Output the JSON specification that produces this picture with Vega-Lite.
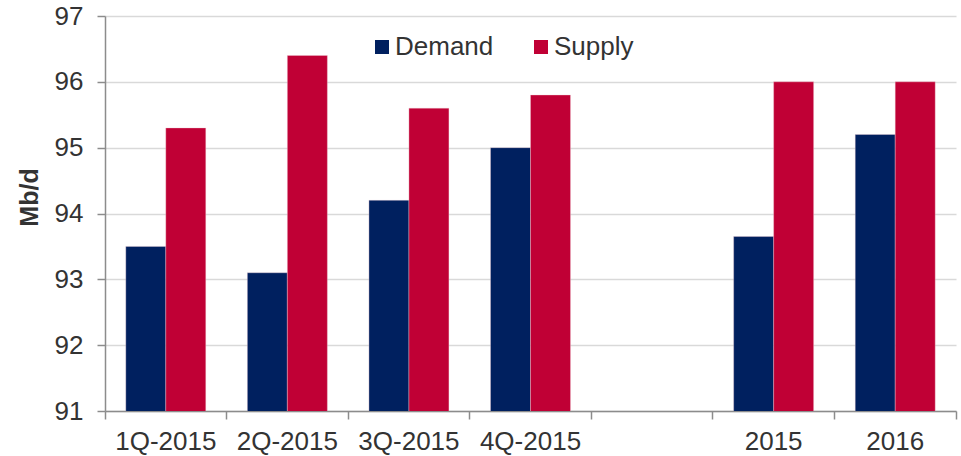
{
  "$schema": "https://vega.github.io/schema/vega-lite/v6.json",
  "width": 851,
  "height": 395,
  "autosize": {"type": "none"},
  "padding": {"left": 105, "top": 16, "right": 5, "bottom": 45},
  "background": "white",
  "config": {
    "view": {"stroke": null},
    "font": "Liberation Sans",
    "axis": {"labelFont": "Liberation Sans", "titleFont": "Liberation Sans"}
  },
  "data": {
    "values": [
      {"period": "1Q-2015", "series": "Demand", "value": 93.5},
      {"period": "1Q-2015", "series": "Supply", "value": 95.3},
      {"period": "2Q-2015", "series": "Demand", "value": 93.1},
      {"period": "2Q-2015", "series": "Supply", "value": 96.4},
      {"period": "3Q-2015", "series": "Demand", "value": 94.2},
      {"period": "3Q-2015", "series": "Supply", "value": 95.6},
      {"period": "4Q-2015", "series": "Demand", "value": 95.0},
      {"period": "4Q-2015", "series": "Supply", "value": 95.8},
      {"period": "2015", "series": "Demand", "value": 93.65},
      {"period": "2015", "series": "Supply", "value": 96.0},
      {"period": "2016", "series": "Demand", "value": 95.2},
      {"period": "2016", "series": "Supply", "value": 96.0}
    ]
  },
  "mark": {"type": "bar", "clip": true, "stroke": "#f2d0d8", "strokeWidth": 0.6, "strokeOpacity": 0.6},
  "encoding": {
    "x": {
      "field": "period",
      "type": "nominal",
      "sort": null,
      "scale": {
        "domain": ["1Q-2015", "2Q-2015", "3Q-2015", "4Q-2015", " ", "2015", "2016"],
        "paddingInner": 0,
        "paddingOuter": 0
      },
      "axis": {
        "title": null,
        "labelAngle": 0,
        "labelFontSize": 26,
        "labelColor": "#333333",
        "labelPadding": 9,
        "bandPosition": 1,
        "tickExtra": true,
        "labelOffset": 0,
        "domainColor": "#8c8c8c",
        "domainWidth": 1.5,
        "tickColor": "#8c8c8c",
        "tickWidth": 1.5,
        "tickSize": 8,
        "grid": false
      }
    },
    "xOffset": {
      "field": "series",
      "type": "nominal",
      "scale": {"paddingInner": 0, "paddingOuter": 0.52}
    },
    "y": {
      "field": "value",
      "type": "quantitative",
      "scale": {"domain": [91, 97], "zero": false, "nice": false},
      "axis": {
        "title": "Mb/d",
        "titleFontSize": 25,
        "titleFontWeight": "bold",
        "titleColor": "#333333",
        "titleX": -68,
        "titleY": 181,
        "titleAngle": -90,
        "titleAlign": "center",
        "titleBaseline": "alphabetic",
        "values": [91, 92, 93, 94, 95, 96, 97],
        "labelFontSize": 26,
        "labelColor": "#333333",
        "labelPadding": 14,
        "domainColor": "#8c8c8c",
        "domainWidth": 1.5,
        "tickColor": "#8c8c8c",
        "tickWidth": 1.5,
        "tickSize": 8,
        "grid": true,
        "gridColor": "#d9d9d9",
        "gridWidth": 1.5
      }
    },
    "color": {
      "field": "series",
      "type": "nominal",
      "scale": {"domain": ["Demand", "Supply"], "range": ["#00205f", "#c00035"]},
      "legend": {
        "title": null,
        "orient": "none",
        "direction": "horizontal",
        "legendX": 264,
        "legendY": 18,
        "symbolType": "square",
        "symbolSize": 196,
        "symbolStrokeWidth": 0,
        "labelFontSize": 26,
        "labelColor": "#333333",
        "labelOffset": 0,
        "columnPadding": 34
      }
    }
  }
}
